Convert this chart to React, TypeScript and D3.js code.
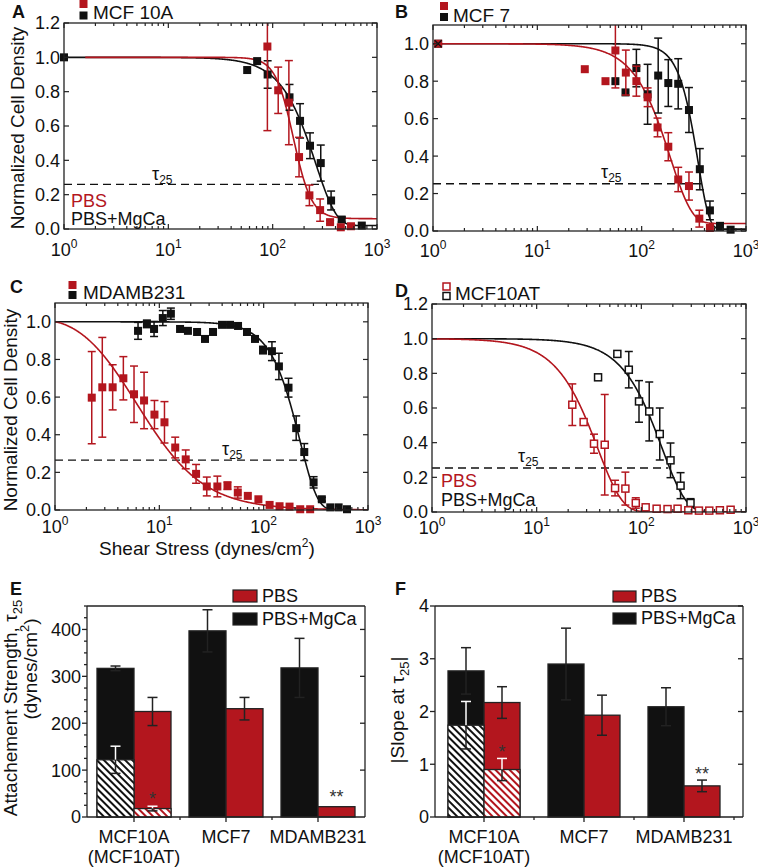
import React from 'react';
import * as d3 from 'd3';

const RED = '#b3161e';
const BLK = '#111111';
const AX = '#222222';
const FONT = '"Liberation Sans", Arial, Helvetica, sans-serif';

// ---------------- Panel A : MCF 10A ----------------
const aBlackX = [1, 57, 71, 89.5, 145, 183, 228, 289, 363, 459, 715];
const aBlackY = [1.0, 0.926, 0.978, 0.9, 0.767, 0.63, 0.485, 0.384, 0.166, 0.055, 0.02];
const aBlackErr = [0, 0, 0, 0.08, 0.075, 0.1, 0.075, 0.105, 0.055, 0.015, 0];
const aRedX = [89, 113, 143, 179, 225, 285, 355, 450, 563];
const aRedY = [1.063, 0.808, 0.736, 0.419, 0.196, 0.11, 0.04, 0.01, 0.016];
const aRedErr = [0.49, 0.135, 0.245, 0.115, 0.06, 0.065, 0.01, 0, 0];
// fit parameters: [model, floor, scale, exponent, first x]
const aBlackFit = ['w', 0.02, 259, 2.2, 1];
const aRedFit = ['h', 0.06, 158, 5, 1.6];
const aTau = [0.26, 305];

// ---------------- Panel B : MCF 7 ----------------
const bBlackX = [1.12, 56, 70, 89, 114, 144, 180, 224, 284, 361, 451, 563, 712];
const bBlackY = [1.0, 0.8, 0.74, 0.87, 0.73, 0.83, 0.79, 0.786, 0.646, 0.33, 0.11, 0.025, 0.007];
const bBlackErr = [0, 0, 0, 0.1, 0.16, 0.2, 0.125, 0.134, 0.12, 0.11, 0.05, 0.02, 0];
const bRedX = [1.12, 28.5, 45, 56, 70.5, 89, 114, 142, 180, 224, 284, 357, 451];
const bRedY = [1.0, 0.864, 0.8, 0.964, 0.846, 0.8, 0.714, 0.553, 0.45, 0.275, 0.24, 0.066, 0.016];
const bRedErr = [0, 0, 0, 0.2, 0.12, 0.08, 0.05, 0.05, 0.075, 0.065, 0.075, 0.045, 0];
const bBlackFit = ['w', 0.01, 346, 4, 1];
const bRedFit = ['w', 0.04, 188, 2.1, 1];
const bTau = [0.252, 389];

// ---------------- Panel C : MDAMB231 ----------------
const cBlackX = [6.25, 7.6, 8.9, 10.8, 12.9, 15.8, 18.8, 23, 27.4, 32.7, 39.9, 47.6, 56.8, 69.2, 82.6, 98.6, 120, 140, 173, 205, 245, 301, 361, 435, 523, 629];
const cBlackY = [0.952, 0.989, 0.962, 1.02, 1.043, 0.962, 0.952, 0.946, 0.909, 0.946, 0.984, 0.984, 0.978, 0.946, 0.909, 0.85, 0.844, 0.763, 0.65, 0.435, 0.308, 0.147, 0.057, 0.014, 0.014, 0.004];
const cBlackErr = [0.045, 0.02, 0.04, 0.04, 0.03, 0, 0, 0, 0, 0, 0, 0, 0, 0, 0, 0.02, 0.05, 0.07, 0.05, 0.065, 0.045, 0.03, 0.01, 0, 0, 0];
const cRedX = [2.25, 2.84, 3.57, 4.52, 5.72, 7.14, 8.98, 11.2, 14.2, 17.9, 22.5, 28.5, 36, 45, 56.5, 70.5, 89, 114, 142, 177, 224, 279];
const cRedY = [0.597, 0.652, 0.652, 0.7, 0.615, 0.582, 0.507, 0.466, 0.332, 0.269, 0.192, 0.125, 0.125, 0.129, 0.093, 0.075, 0.057, 0.027, 0.02, 0.018, 0.004, 0.004];
const cRedErr = [0.245, 0.265, 0.12, 0.115, 0.15, 0.15, 0.075, 0.11, 0.055, 0.05, 0.05, 0.05, 0.055, 0.02, 0.03, 0, 0, 0, 0, 0, 0, 0];
const cBlackFit = ['w', 0, 223, 2.6, 1];
const cRedFit = ['hs', 0, 6.2, 1.3, 1];
const cTau = [0.265, 260];

// ---------------- Panel D : MCF10AT ----------------
const dBlackX = [38.6, 59, 75.9, 95, 119, 150, 190, 237, 295];
const dBlackY = [0.777, 0.912, 0.821, 0.638, 0.58, 0.45, 0.298, 0.152, 0.052];
const dBlackErr = [0, 0, 0.105, 0.12, 0.17, 0.15, 0.1, 0.075, 0.025];
const dRedX = [21.9, 28.1, 35.3, 44.7, 56.1, 70.4, 88.5, 110, 140, 178, 222, 281, 355, 446, 563, 713];
const dRedY = [0.619, 0.519, 0.394, 0.388, 0.138, 0.135, 0.052, 0.027, 0.019, 0.017, 0.019, 0.01, 0.008, 0.008, 0.01, 0.013];
const dRedErr = [0.12, 0, 0.055, 0.29, 0.045, 0.095, 0.03, 0, 0, 0, 0, 0, 0, 0, 0, 0];
const dBlackFit = ['w', 0, 158, 1.9, 1];
const dRedFit = ['w', 0, 38.3, 1.85, 1];
const dTau = [0.254, 181];

// ---------------- Panels E / F : bars ----------------
const barCats = ['MCF10A', 'MCF7', 'MDAMB231'];
const eMgca = [317, 397, 318];
const eMgcaErr = [5, 45, 63];
const ePbs = [225, 231, 22];
const ePbsErr = [30, 24, 0];
const eAtMgca = 122; // MCF10AT, hatched
const eAtMgcaErr = 29;
const eAtPbs = 18;
const eAtPbsErr = 5;
const eStars = [['*', 0, 47], ['**', 2, 51]];

const fMgca = [2.77, 2.9, 2.09];
const fMgcaErr = [0.44, 0.68, 0.36];
const fPbs = [2.17, 1.93, 0.59];
const fPbsErr = [0.3, 0.38, 0.11];
const fAtMgca = 1.74;
const fAtMgcaErr = 0.45;
const fAtPbs = 0.9;
const fAtPbsErr = 0.21;
const fStars = [['*', 0, 1.31], ['**', 2, 0.89]];

const fitY = (f: any[], xv: number) => {
  const [type, b, x0, n] = f;
  if (type === 'hs') {
    const r = Math.pow(Math.max(xv - 1, 0) / x0, n);
    return b + (1 - b) / (1 + r);
  }
  const r = Math.pow(xv / x0, n);
  return type === 'w' ? b + (1 - b) * Math.exp(-r) : b + (1 - b) / (1 + r);
};

const panels: any[] = [
  {
    id: 'A', left: 64, right: 377, top: 23, bottom: 229, yMax: 1.2, ms: 8, hollow: false, xlabOff: 27,
    letter: [12, 18], legendSq: [83.5, 4, 15.5], legendText: ['MCF 10A', 93, 19],
    tauLabel: [152, 180], tau: aTau, pbs: [71, 207, 225], ytitle: [24, 128],
    black: [aBlackX, aBlackY, aBlackErr, aBlackFit], red: [aRedX, aRedY, aRedErr, aRedFit],
  },
  {
    id: 'B', left: 433, right: 746, top: 25, bottom: 231, yMax: 1.1, ms: 8, hollow: false, xlabOff: 26,
    letter: [395, 18], legendSq: [444, 6, 17], legendText: ['MCF 7', 453, 22],
    tauLabel: [601, 178], tau: bTau, cross: [1.12, 1.0],
    black: [bBlackX, bBlackY, bBlackErr, bBlackFit], red: [bRedX, bRedY, bRedErr, bRedFit],
  },
  {
    id: 'C', left: 55, right: 368, top: 303, bottom: 510, yMax: 1.1, ms: 8, hollow: false, xlabOff: 23,
    letter: [10, 293], legendSq: [72.5, 285, 295], legendText: ['MDAMB231', 83, 299],
    tauLabel: [222, 455], tau: cTau, ytitle: [17, 410], xtitle: [207, 555],
    black: [cBlackX, cBlackY, cBlackErr, cBlackFit], red: [cRedX, cRedY, cRedErr, cRedFit],
  },
  {
    id: 'D', left: 432, right: 746, top: 304, bottom: 512, yMax: 1.2, ms: 7, hollow: true, xlabOff: 22,
    letter: [395, 297], legendSq: [446.5, 286.5, 296], legendText: ['MCF10AT', 455, 300],
    tauLabel: [518, 462], tau: dTau, pbs: [441, 487, 506],
    black: [dBlackX, dBlackY, dBlackErr, dBlackFit], red: [dRedX, dRedY, dRedErr, dRedFit],
  },
];

function Marker({ cx, cy, s, color, hollow }: any) {
  return hollow ? (
    <rect x={cx - s / 2} y={cy - s / 2} width={s} height={s} fill="white" stroke={color} strokeWidth={1.5} />
  ) : (
    <rect x={cx - s / 2} y={cy - s / 2} width={s} height={s} fill={color} />
  );
}

function ScatterPanel({ p }: any) {
  const x = d3.scaleLog().domain([1, 1000]).range([p.left, p.right]);
  const y = d3.scaleLinear().domain([0, p.yMax]).range([p.bottom, p.top]);
  const clipId = 'clip' + p.id;
  const fitPath = (f: any[]) => {
    const xs = d3.range(Math.log10(f[4]), 3.0001, 0.005).map((e) => Math.pow(10, e));
    return d3.line<number>().x((d) => x(d)).y((d) => y(fitY(f, d)))(xs) || '';
  };
  const majors = [1, 10, 100, 1000];
  const minors: number[] = [];
  [1, 10, 100].forEach((d) => d3.range(2, 10).forEach((k) => minors.push(k * d)));
  const yTicks = d3.range(0, p.yMax + 1e-9, 0.2);
  const fmt = d3.format('.1f');
  const drawSeries = (s: any[], color: string, key: string) => {
    const [xs, ys, es] = s;
    return (
      <g key={key}>
        <g clipPath={`url(#${clipId})`}>
          {xs.map((xv: number, i: number) =>
            es[i] > 0 ? (
              <g key={i} stroke={color} strokeWidth={1.5}>
                <line x1={x(xv)} x2={x(xv)} y1={y(ys[i] - es[i])} y2={y(ys[i] + es[i])} />
                <line x1={x(xv) - 4} x2={x(xv) + 4} y1={y(ys[i] - es[i])} y2={y(ys[i] - es[i])} />
                <line x1={x(xv) - 4} x2={x(xv) + 4} y1={y(ys[i] + es[i])} y2={y(ys[i] + es[i])} />
              </g>
            ) : null
          )}
        </g>
        {xs.map((xv: number, i: number) => (
          <Marker key={'m' + i} cx={x(xv)} cy={y(ys[i])} s={p.ms} color={color} hollow={p.hollow} />
        ))}
      </g>
    );
  };
  return (
    <g fontFamily={FONT}>
      <defs>
        <clipPath id={clipId}>
          <rect x={p.left} y={p.top} width={p.right - p.left} height={p.bottom - p.top} />
        </clipPath>
      </defs>
      <line x1={x(1)} x2={x(p.tau[1])} y1={y(p.tau[0])} y2={y(p.tau[0])} stroke={BLK} strokeWidth={1.4} strokeDasharray="8,5" />
      <g clipPath={`url(#${clipId})`} fill="none" strokeWidth={1.6}>
        <path d={fitPath(p.black[3])} stroke={BLK} />
        <path d={fitPath(p.red[3])} stroke={RED} />
      </g>
      {drawSeries(p.black, BLK, 'b')}
      {drawSeries(p.red, RED, 'r')}
      {p.cross ? (
        <g stroke={BLK} strokeWidth={1.3}>
          <line x1={x(p.cross[0]) - 3.5} x2={x(p.cross[0]) + 3.5} y1={y(p.cross[1]) - 3.5} y2={y(p.cross[1]) + 3.5} />
          <line x1={x(p.cross[0]) - 3.5} x2={x(p.cross[0]) + 3.5} y1={y(p.cross[1]) + 3.5} y2={y(p.cross[1]) - 3.5} />
        </g>
      ) : null}
      <rect x={p.left} y={p.top} width={p.right - p.left} height={p.bottom - p.top} fill="none" stroke={AX} strokeWidth={1.3} />
      <g stroke={AX} strokeWidth={1.2}>
        {majors.map((v) => (
          <g key={'M' + v}>
            <line x1={x(v)} x2={x(v)} y1={p.bottom} y2={p.bottom - 5} />
            <line x1={x(v)} x2={x(v)} y1={p.top} y2={p.top + 5} />
          </g>
        ))}
        {minors.map((v) => (
          <g key={'m' + v}>
            <line x1={x(v)} x2={x(v)} y1={p.bottom} y2={p.bottom - 3} />
            <line x1={x(v)} x2={x(v)} y1={p.top} y2={p.top + 3} />
          </g>
        ))}
        {yTicks.map((v) => (
          <g key={'y' + v}>
            <line x1={p.left} x2={p.left + 5} y1={y(v)} y2={y(v)} />
            <line x1={p.right} x2={p.right - 5} y1={y(v)} y2={y(v)} />
          </g>
        ))}
      </g>
      <g fontSize={18} fill={BLK}>
        {yTicks.map((v) => (
          <text key={'yl' + v} x={p.left - 4} y={y(v)} dy="0.36em" textAnchor="end">
            {fmt(v)}
          </text>
        ))}
        {majors.map((v, i) => (
          <text key={'xl' + v} x={x(v)} y={p.bottom + p.xlabOff} textAnchor="middle">
            10<tspan dy={-8} fontSize={12}>{i}</tspan>
          </text>
        ))}
      </g>
      <text x={p.tauLabel[0]} y={p.tauLabel[1]} fontSize={18} fill={BLK}>
        τ<tspan dy={4} fontSize={12}>25</tspan>
      </text>
      <text x={p.letter[0]} y={p.letter[1]} fontSize={18} fontWeight="bold" fill={BLK}>{p.id}</text>
      <Marker cx={p.legendSq[0]} cy={p.legendSq[1]} s={p.ms} color={RED} hollow={p.hollow} />
      <Marker cx={p.legendSq[0]} cy={p.legendSq[2]} s={p.ms} color={BLK} hollow={p.hollow} />
      <text x={p.legendText[1]} y={p.legendText[2]} fontSize={19} fill={BLK}>{p.legendText[0]}</text>
      {p.pbs ? (
        <g fontSize={18}>
          <text x={p.pbs[0]} y={p.pbs[1]} fill={RED}>PBS</text>
          <text x={p.pbs[0]} y={p.pbs[2]} fill={BLK}>PBS+MgCa</text>
        </g>
      ) : null}
      {p.ytitle ? (
        <text transform={`translate(${p.ytitle[0]},${p.ytitle[1]}) rotate(-90)`} textAnchor="middle" fontSize={19} fill={BLK}>
          Normalized Cell Density
        </text>
      ) : null}
      {p.xtitle ? (
        <text x={p.xtitle[0]} y={p.xtitle[1]} textAnchor="middle" fontSize={19} fill={BLK}>
          Shear Stress (dynes/cm<tspan dy={-8} fontSize={12}>2</tspan><tspan dy={8}>)</tspan>
        </text>
      ) : null}
    </g>
  );
}

const barPanels: any[] = [
  {
    id: 'E', left: 87, right: 365, top: 606, bottom: 817, yMax: 450, c0: 134, c1: 318, bw: 37,
    majors: [0, 100, 200, 300, 400], minorStep: 25, yfmt: d3.format('d'),
    mg: eMgca, mgE: eMgcaErr, pb: ePbs, pbE: ePbsErr, atMg: eAtMgca, atMgE: eAtMgcaErr, atPb: eAtPbs, atPbE: eAtPbsErr,
    stars: eStars, letter: [10, 595], leg: [233, 590, 613, 24, 12, 262],
  },
  {
    id: 'F', left: 435, right: 743, top: 606, bottom: 817, yMax: 4, c0: 484, c1: 684, bw: 36,
    majors: [0, 1, 2, 3, 4], minorStep: 0, yfmt: d3.format('d'),
    mg: fMgca, mgE: fMgcaErr, pb: fPbs, pbE: fPbsErr, atMg: fAtMgca, atMgE: fAtMgcaErr, atPb: fAtPbs, atPbE: fAtPbsErr,
    stars: fStars, letter: [395, 595], leg: [613, 591, 613, 23, 11, 641],
  },
];

function ErrBar({ x, y1, y2, color, cap = 10 }: any) {
  return (
    <g stroke={color} strokeWidth={1.5}>
      <line x1={x} x2={x} y1={y1} y2={y2} />
      <line x1={x - cap / 2} x2={x + cap / 2} y1={y2} y2={y2} />
    </g>
  );
}

function BarPanel({ p }: any) {
  const x = d3.scalePoint<string>().domain(barCats).range([p.c0, p.c1]);
  const y = d3.scaleLinear().domain([0, p.yMax]).range([p.bottom, p.top]);
  const bw = p.bw;
  const step = (p.c1 - p.c0) / (barCats.length - 1);
  const minors = p.minorStep ? d3.range(0, p.yMax + 1e-9, p.minorStep).filter((v) => !p.majors.includes(v)) : [];
  const boundaries = barCats.map((c) => (x(c) as number) + step / 2).filter((v) => v < p.right - 3);
  const c0 = x(barCats[0]) as number;
  return (
    <g fontFamily={FONT}>
      <defs>
        <pattern id={'hk' + p.id} patternUnits="userSpaceOnUse" width={5} height={5} patternTransform="rotate(-45)">
          <rect width={5} height={5} fill="white" />
          <line x1={1} x2={1} y1={0} y2={5} stroke={BLK} strokeWidth={2} />
        </pattern>
        <pattern id={'hr' + p.id} patternUnits="userSpaceOnUse" width={5} height={5} patternTransform="rotate(-45)">
          <rect width={5} height={5} fill="white" />
          <line x1={1} x2={1} y1={0} y2={5} stroke={RED} strokeWidth={2} />
        </pattern>
      </defs>
      {barCats.map((c, i) => {
        const cx = x(c) as number;
        return (
          <g key={c}>
            <rect x={cx - bw} y={y(p.mg[i])} width={bw} height={y(0) - y(p.mg[i])} fill={BLK} stroke={AX} strokeWidth={1.3} />
            <rect x={cx} y={y(p.pb[i])} width={bw} height={y(0) - y(p.pb[i])} fill={RED} stroke={AX} strokeWidth={1.3} />
          </g>
        );
      })}
      <rect x={c0 - bw} y={y(p.atMg)} width={bw} height={y(0) - y(p.atMg)} fill={`url(#hk${p.id})`} stroke={AX} strokeWidth={1.3} />
      <rect x={c0} y={y(p.atPb)} width={bw} height={y(0) - y(p.atPb)} fill={`url(#hr${p.id})`} stroke={AX} strokeWidth={1.3} />
      {barCats.map((c, i) => {
        const cx = x(c) as number;
        return (
          <g key={'e' + c}>
            {p.mgE[i] > 0 ? (
              <>
                <ErrBar x={cx - bw / 2} y1={y(p.mg[i])} y2={y(p.mg[i] + p.mgE[i])} color={AX} />
                <ErrBar x={cx - bw / 2} y1={y(p.mg[i])} y2={y(p.mg[i] - p.mgE[i])} color={AX} />
              </>
            ) : null}
            {p.pbE[i] > 0 ? (
              <>
                <ErrBar x={cx + bw / 2} y1={y(p.pb[i])} y2={y(p.pb[i] + p.pbE[i])} color={AX} />
                <ErrBar x={cx + bw / 2} y1={y(p.pb[i])} y2={y(p.pb[i] - p.pbE[i])} color={AX} />
              </>
            ) : null}
          </g>
        );
      })}
      <ErrBar x={c0 - bw / 2} y1={y(p.atMg)} y2={y(p.atMg + p.atMgE)} color="white" />
      <ErrBar x={c0 - bw / 2} y1={y(p.atMg)} y2={y(p.atMg - p.atMgE)} color={AX} />
      <ErrBar x={c0 + bw / 2} y1={y(p.atPb)} y2={y(p.atPb + p.atPbE)} color="white" />
      <ErrBar x={c0 + bw / 2} y1={y(p.atPb)} y2={y(p.atPb - p.atPbE)} color={AX} />
      {p.stars.map((s: any) => (
        <text key={s[0] + s[1]} x={(x(barCats[s[1]]) as number) + bw / 2} y={y(s[2]) + 10} textAnchor="middle" fontSize={18} fill="#333">
          {s[0]}
        </text>
      ))}
      <g stroke={AX} strokeWidth={1.3} fill="none">
        <line x1={p.left} x2={p.left} y1={p.top} y2={p.bottom} />
        <line x1={p.right} x2={p.right} y1={p.top} y2={p.bottom} />
        <line x1={p.left} x2={p.right} y1={p.bottom} y2={p.bottom} />
        <line x1={p.left} x2={p.right} y1={p.top} y2={p.top} />
        {p.majors.map((v: number) => (
          <g key={'t' + v}>
            <line x1={p.left} x2={p.left - 5} y1={y(v)} y2={y(v)} />
            {v > 0 ? <line x1={p.right} x2={p.right - 5} y1={y(v)} y2={y(v)} /> : null}
          </g>
        ))}
        {minors.map((v: number) => (
          <line key={'mt' + v} x1={p.left} x2={p.left - 3} y1={y(v)} y2={y(v)} />
        ))}
        {barCats.map((c) => (
          <line key={'xt' + c} x1={x(c) as number} x2={x(c) as number} y1={p.bottom} y2={p.bottom + 5} />
        ))}
        {boundaries.map((v) => (
          <line key={'xb' + v} x1={v} x2={v} y1={p.bottom} y2={p.bottom + 3} />
        ))}
      </g>
      <g fontSize={18} fill={BLK}>
        {p.majors.map((v: number) => (
          <text key={'yl' + v} x={p.left - 6} y={y(v)} dy="0.36em" textAnchor="end">{p.yfmt(v)}</text>
        ))}
        {barCats.map((c) => (
          <text key={'xl' + c} x={x(c) as number} y={843} textAnchor="middle">{c}</text>
        ))}
        <text x={c0} y={863} textAnchor="middle">(MCF10AT)</text>
      </g>
      <rect x={p.leg[0]} y={p.leg[1]} width={p.leg[3]} height={p.leg[4]} fill={RED} stroke={AX} strokeWidth={1.2} />
      <rect x={p.leg[0]} y={p.leg[2]} width={p.leg[3]} height={p.leg[4]} fill={BLK} stroke={AX} strokeWidth={1.2} />
      <text x={p.leg[5]} y={p.leg[1] + p.leg[4]} fontSize={18} fill={BLK}>PBS</text>
      <text x={p.leg[5]} y={p.leg[2] + p.leg[4]} fontSize={18} fill={BLK}>PBS+MgCa</text>
      <text x={p.letter[0]} y={p.letter[1]} fontSize={18} fontWeight="bold" fill={BLK}>{p.id}</text>
    </g>
  );
}

export default function App() {
  return (
    <svg width={758} height={867} style={{ position: 'absolute', left: 0, top: 0, background: 'white' }}>
      <rect width={758} height={867} fill="white" />
      {panels.map((p) => (
        <ScatterPanel key={p.id} p={p} />
      ))}
      {barPanels.map((p) => (
        <BarPanel key={p.id} p={p} />
      ))}
      <g fontFamily={FONT} fontSize={19} fill={BLK}>
        <text transform="translate(17,708) rotate(-90)" textAnchor="middle">
          Attachement Strength, τ<tspan dy={5} fontSize={13}>25</tspan>
        </text>
        <text transform="translate(37,669) rotate(-90)" textAnchor="middle">
          (dynes/cm<tspan dy={-8} fontSize={13}>2</tspan><tspan dy={8}>)</tspan>
        </text>
        <text transform="translate(404,710) rotate(-90)" textAnchor="middle">
          |Slope at τ<tspan dy={5} fontSize={13}>25</tspan><tspan dy={-5}>|</tspan>
        </text>
      </g>
    </svg>
  );
}
